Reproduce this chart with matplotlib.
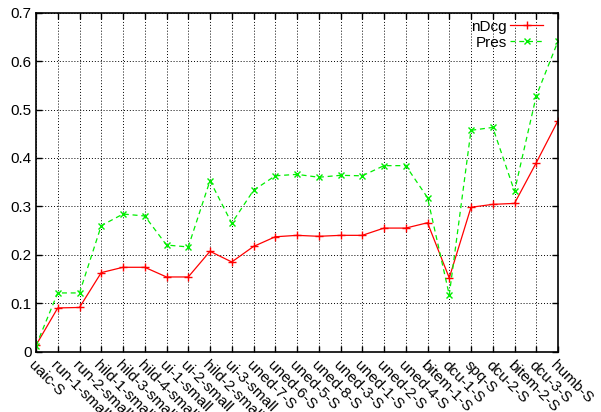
import numpy as np
import matplotlib.pyplot as plt

plt.rc('font', family=['Liberation Sans', 'DejaVu Sans'], size=11)

# Datos
corridas = ['uaic-S', 'run-1-small', 'run-2-small', 'hild-1-small', 'hild-3-small',
            'hild-4-small', 'ui-1-small', 'ui-2-small', 'hild-2-small', 'ui-3-small',
            'uned-7-S', 'uned-6-S', 'uned-5-S', 'uned-8-S', 'uned-3-S', 'uned-1-S',
            'uned-2-S', 'uned-4-S', 'bitem-1-S', 'dcu-1-S', 'spq-S', 'dcu-2-S',
            'bitem-2-S', 'dcu-3-S', 'humb-S']

ndcg = [0.013, 0.090, 0.091, 0.163, 0.174, 0.174, 0.154, 0.154, 0.207, 0.185,
        0.217, 0.237, 0.240, 0.238, 0.240, 0.240, 0.255, 0.255, 0.266, 0.152,
        0.298, 0.304, 0.306, 0.390, 0.477]

pres = [0.012, 0.121, 0.121, 0.260, 0.284, 0.280, 0.220, 0.216, 0.353, 0.265,
        0.333, 0.363, 0.366, 0.360, 0.364, 0.363, 0.384, 0.384, 0.318, 0.117,
        0.457, 0.463, 0.331, 0.528, 0.641]

y_ticks = [0, 0.1, 0.2, 0.3, 0.4, 0.5, 0.6, 0.7]
y_labels = ['0', '0.1', '0.2', '0.3', '0.4', '0.5', '0.6', '0.7']

fig = plt.figure(figsize=(6.01, 4.12), dpi=100)
ax = fig.add_axes([36/601, 1 - 351.5/412, (558 - 36)/601, (351.5 - 12.7)/412])

x = np.arange(len(corridas))
ax.plot(x, ndcg, color='#ff0000', lw=0.9, marker='+', ms=6, mew=1.0, label='nDcg')
ax.plot(x, pres, color='#00ee00', lw=0.9, ls=(0, (4, 3)), marker='x', ms=5, mew=1.0, label='Pres')

ax.set_xlim(0, len(corridas) - 1)
ax.set_ylim(0, 0.7)
ax.set_yticks(y_ticks)
ax.set_yticklabels(y_labels)
ax.set_xticks(x)
ax.set_xticklabels(corridas, rotation=-45, ha='left', va='top', rotation_mode='anchor')

ax.grid(True, color='k', ls=(0, (1, 2)), lw=0.7)
ax.tick_params(direction='in', length=4, width=1, top=True, right=True, pad=3)
ax.tick_params(axis='x', pad=5)
for s in ax.spines.values():
    s.set_linewidth(1.2)

# Leyenda estilo gnuplot: texto a la izquierda de la muestra
leg = ax.legend(loc='upper right', bbox_to_anchor=(0.972, 0.979), frameon=False,
                markerfirst=False, handlelength=2.2, labelspacing=0.12,
                borderaxespad=0, borderpad=0, handletextpad=0.2)

plt.savefig('out.png', dpi=100)
